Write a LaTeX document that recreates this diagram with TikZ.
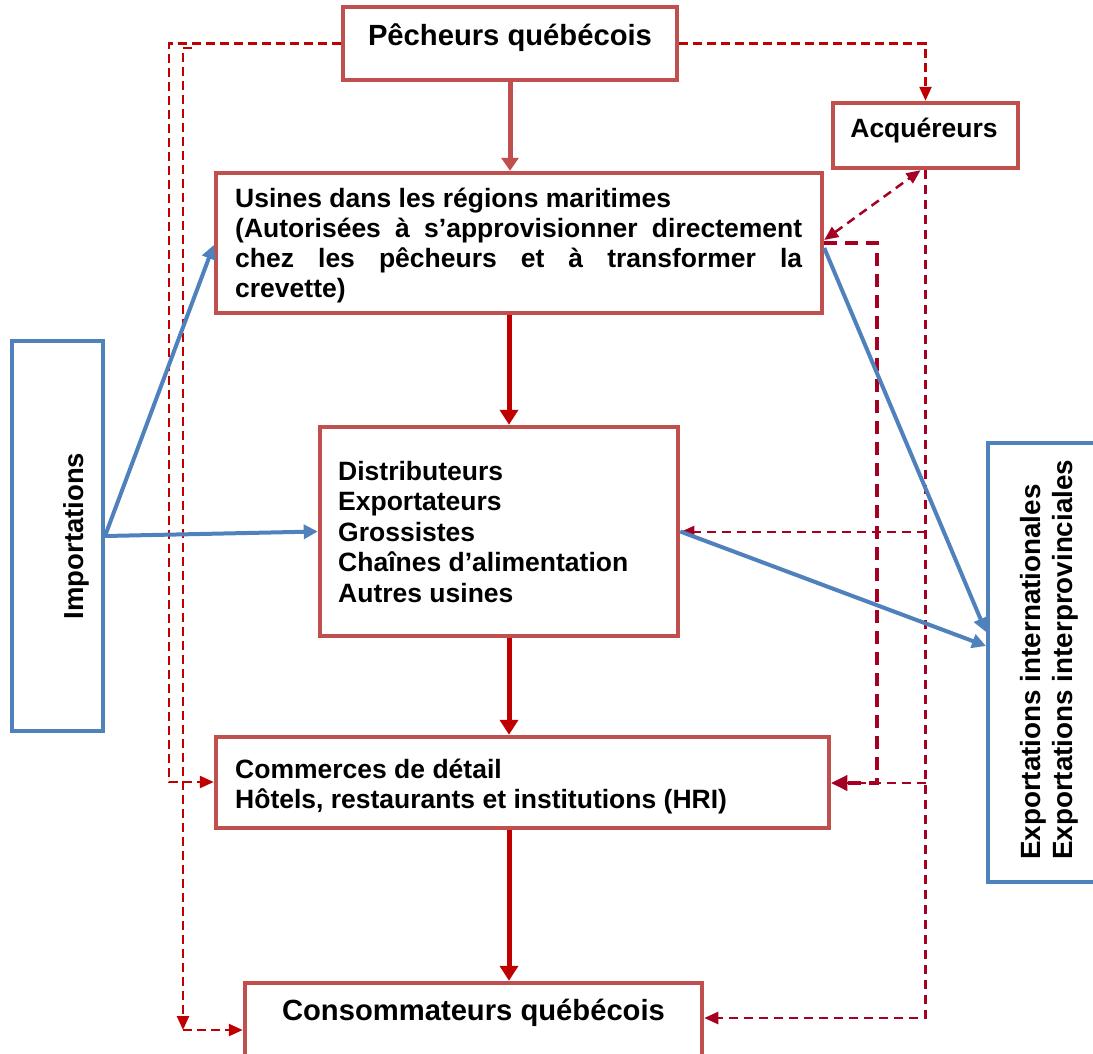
\documentclass[tikz,border=0pt]{standalone}
\usepackage{fontspec}
\setmainfont{Liberation Sans}
\usetikzlibrary{arrows.meta}
\definecolor{boxred}{HTML}{C0504D}
\definecolor{boxblue}{HTML}{4F81BD}
\definecolor{flowred}{HTML}{C00000}
\definecolor{crimson}{HTML}{A50021}
\newcommand\bodyfnt{\bfseries\fontsize{26.5}{30}\selectfont}
\newcommand\titlefnt{\bfseries\fontsize{29.2}{33}\selectfont}
\newcommand\impfnt{\bfseries\fontsize{27.5}{32}\selectfont}
\newcommand\expfnt{\bfseries\fontsize{27.8}{32}\selectfont}
\begin{document}
\begin{tikzpicture}[x=1pt,y=-1pt,
  redbox/.style={draw=boxred,line width=4.5pt,fill=white,inner sep=0pt,rectangle},
  bluebox/.style={draw=boxblue,line width=4pt,fill=white,inner sep=0pt,rectangle},
  txt/.style={inner sep=0pt,font=\bodyfnt},
  flow/.style={draw=flowred,line width=5pt,-{Triangle[length=15pt,width=18pt]}},
  flowlight/.style={draw=boxred,line width=5pt,-{Triangle[length=13pt,width=17pt]}},
  bluearr/.style={draw=boxblue,line width=4pt,-{Triangle[length=14pt,width=14pt]}},
  dashL/.style={draw=flowred,line width=2.5pt,dash pattern=on 9pt off 5pt,-{Triangle[length=14pt,width=12pt]}},
  dashR/.style={draw=crimson,line width=2.5pt,dash pattern=on 9pt off 6pt,-{Triangle[length=14pt,width=12pt]}},
  dashT/.style={draw=crimson,line width=3.5pt,dash pattern=on 13pt off 8pt,-{Triangle[length=16pt,width=15pt]}}]
\useasboundingbox (0,0) rectangle (1093,1053);
\clip (0,0) rectangle (1093,1053);
\fill[white] (0,0) rectangle (1093,1053);

% boxes
\node[redbox,minimum width=334pt,minimum height=73pt] (pech) at (510,43.5) {};
\node[txt,font=\titlefnt,anchor=base] (pechT) at (510,45) {Pêcheurs québécois};

\node[redbox,minimum width=185pt,minimum height=65pt] (acq) at (925.5,135.5) {};
\node[txt,anchor=base] (acqT) at (924,137) {Acquéreurs};

\node[redbox,minimum width=606pt,minimum height=140pt] (usines) at (519,243) {};
\node[txt,anchor=base west] (usinesT) at (235,207) {\vtop{\baselineskip=30pt
  \hbox{Usines dans les régions maritimes}
  \hbox{\makebox[567pt][s]{(Autorisées à s’approvisionner directement}}
  \hbox{\makebox[567pt][s]{chez les pêcheurs et à transformer la}}
  \hbox{crevette)}}};

\node[redbox,minimum width=358pt,minimum height=209pt] (distr) at (499,531.5) {};
\node[txt,anchor=base west] (distrT) at (338,480) {\vtop{\baselineskip=30.5pt
  \hbox{Distributeurs}
  \hbox{Exportateurs}
  \hbox{Grossistes}
  \hbox{Chaînes d’alimentation}
  \hbox{Autres usines}}};

\node[redbox,minimum width=613pt,minimum height=91pt] (comm) at (522.5,782.5) {};
\node[txt,anchor=base west] (commT) at (235,778) {\vtop{\baselineskip=30pt
  \hbox{Commerces de détail}
  \hbox{Hôtels, restaurants et institutions (HRI)}}};

\node[redbox,minimum width=457pt,minimum height=90pt] (conso) at (473.5,1028) {};
\node[txt,font=\titlefnt,anchor=base] (consoT) at (473.5,1020) {Consommateurs québécois};

\node[bluebox,minimum width=91pt,minimum height=390pt] (imp) at (57.5,536) {};
\node[txt,font=\impfnt,rotate=90,anchor=base] (impT) at (83,536) {Importations};

\node[bluebox,minimum width=130pt,minimum height=439pt] (exp) at (1053,662.5) {};
\node[txt,font=\expfnt,rotate=90,anchor=base west] (expT) at (1040,860) {\vtop{\baselineskip=32pt
  \hbox{Exportations internationales}
  \hbox{Exportations interprovinciales}}};

% helper coordinates
\coordinate (cx) at (509,0);
\coordinate (lc) at (169,782);
\coordinate (is) at (192,48);
\coordinate (ie) at (183,1030);
\coordinate (tc) at (877,783);
\coordinate (y532) at (0,532);
\coordinate (y783) at (0,783);
\coordinate (y1018) at (0,1018);
\coordinate (y245) at (0,245);
\coordinate (y632) at (0,632);
\coordinate (y646) at (0,646);

% dashed connectors (left)
\draw[dashL] (pech.west) -| (lc) -- (comm.west |- lc);
\draw[dashL] (is) -| (ie);
\draw[dashL] (ie) -- (conso.west |- ie);

% dashed connectors (right)
\draw[dashL] (pech.east) -| (acq.north);
\draw[dashR,{Triangle[length=14pt,width=12pt]}-{Triangle[length=14pt,width=12pt]}] ([yshift=3pt]usines.east) -- ([xshift=-5pt]acq.south);
\draw[dashT] (usines.east) -| (tc) -- (comm.east |- tc);
\draw[dashR] (acq.south) |- (conso.east |- y1018);
\draw[dashR] (acq.south |- y532) -- (distr.east |- y532);
\draw[dashR] (acq.south |- y783) -- (comm.east |- y783);

% main flow
\draw[flowlight] (pech.south) -- (pech.south |- usines.north);
\draw[flow] (usines.south -| cx) -- (distr.north -| cx);
\draw[flow] (distr.south -| cx) -- (comm.north -| cx);
\draw[flow] (comm.south -| cx) -- (conso.north -| cx);

% blue arrows
\draw[bluearr] (imp.east) -- (usines.west |- y245);
\draw[bluearr] (imp.east) -- (distr.west);
\draw[bluearr] ([yshift=-5pt]usines.east) -- (exp.west |- y632);
\draw[bluearr] (distr.east) -- (exp.west |- y646);
\end{tikzpicture}
\end{document}
